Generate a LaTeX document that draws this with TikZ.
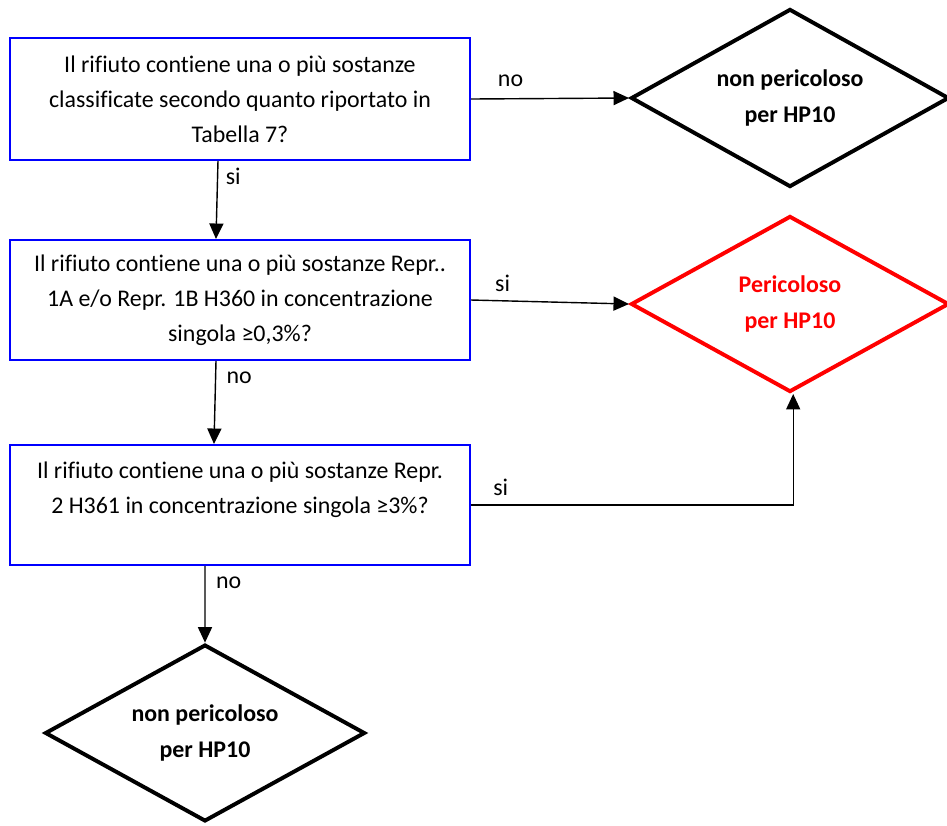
\documentclass[tikz,border=0pt]{standalone}
\usepackage{fontspec}
\setmainfont{Carlito}[RawFeature=-liga]
\usetikzlibrary{shapes.geometric,arrows.meta}
\begin{document}
\begin{tikzpicture}[x=0.025cm,y=-0.025cm,>={Triangle[length=11pt,width=10pt]},
  every node/.style={font=\fontsize{17pt}{25pt}\selectfont},
  question/.style={draw=blue,line width=1.4pt,minimum width=11.5cm,minimum height=3cm,align=center,inner sep=0pt},
  verdict/.style={diamond,aspect=2,draw,line width=2.8pt,minimum width=7.95cm,minimum height=4.45cm,inner sep=0pt,align=center,font=\fontsize{17pt}{26pt}\selectfont\bfseries},
  flow/.style={->,line width=1pt}]
\useasboundingbox (0,0) rectangle (947,825);
\node[question,minimum height=3.05cm] (q1) at (240,99) {Il rifiuto contiene una o più sostanze\\classificate secondo quanto riportato in\\Tabella 7?};
\node[question] (q2) at (240,300) {Il rifiuto contiene una o più sostanze Repr..\\1A e/o Repr. 1B H360 in concentrazione\\singola ≥0,3\%?};
\node[question] (q3) at (240,505) {Il rifiuto contiene una o più sostanze Repr.\\2 H361 in concentrazione singola ≥3\%?\\\mbox{}};
\node[verdict]           (safe1) at (790,98)  {non pericoloso\\per HP10};
\node[verdict,draw=red,text=red,minimum height=4.4cm] (haz) at (790,304) {Pericoloso\\per HP10};
\node[verdict,minimum width=8cm,minimum height=4.42cm] (safe2) at (205,733) {non pericoloso\\per HP10};
% collegamenti
\draw[flow] (q1.east) -- (safe1.west) node[pos=0.25,above=5pt] {no};
\draw[flow] ([xshift=-0.55cm]q1.south) -- ([xshift=-0.6cm]q2.north) node[pos=0.2,right=2pt] {si};
\draw[flow] (q2.east) -- (haz.west) node[pos=0.2,above=3pt] {si};
\draw[flow] ([xshift=-0.6cm]q2.south) -- ([xshift=-0.65cm]q3.north) node[pos=0.2,right=4pt] {no};
\draw[flow] (q3.east) -| ([xshift=0.08cm]haz.south) node[pos=0.046,above=3pt] {si};
\draw[flow] ([xshift=-0.875cm]q3.south) -- (safe2.north) node[pos=0.22,right=4pt] {no};
\end{tikzpicture}
\end{document}
